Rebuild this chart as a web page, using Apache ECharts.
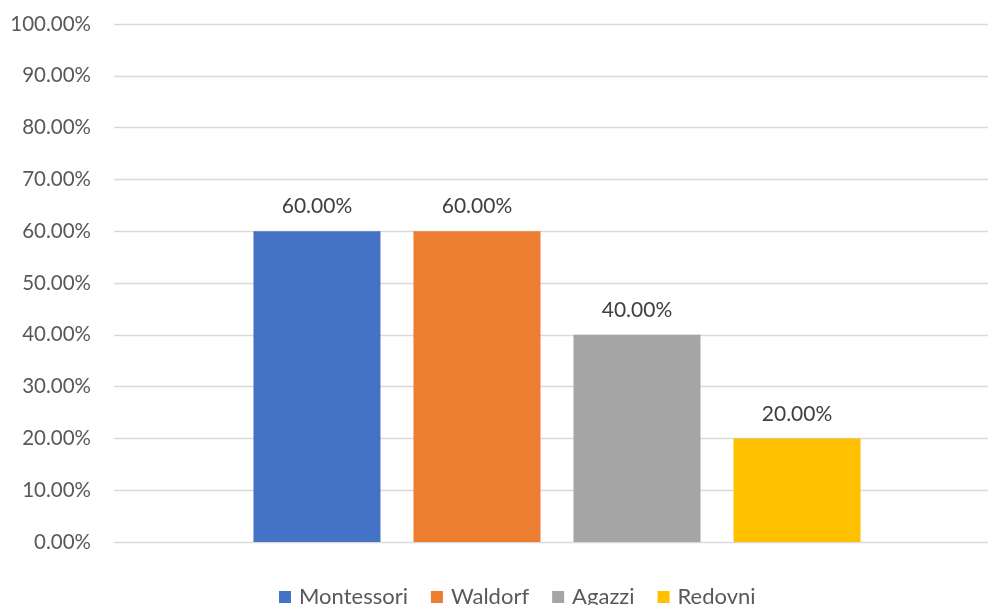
<!DOCTYPE html>
<html>
<head>
<meta charset="utf-8">
<script src="https://cdn.jsdelivr.net/npm/echarts@6/dist/echarts.min.js"></script>
<style>
  html, body { margin: 0; padding: 0; background: #fff; }
  #chart { width: 988px; height: 605px; }
</style>
</head>
<body>
<div id="chart"></div>
<script>
const categories = [""];
const seriesNames = ["Montessori", "Waldorf", "Agazzi", "Redovni"];
const seriesValues = [[0.6], [0.6], [0.4], [0.2]];
const colors = ["#4472c4", "#ed7d31", "#a5a5a5", "#ffc000"];

const chart = echarts.init(document.getElementById("chart"));

const pct = (v) => (v * 100).toFixed(2) + "%";

const option = {
  animation: false,
  color: colors,
  textStyle: { fontFamily: "Lato, 'Open Sans', sans-serif" },
  grid: {
    left: 114,
    right: -12,
    top: 24,
    bottom: 63,
    outerBoundsMode: "none",
  },
  legend: {
    bottom: -8,
    left: 274,
    icon: "rect",
    itemWidth: 12,
    itemHeight: 12,
    itemGap: 23,
    textStyle: { color: "#595959", fontSize: 22, padding: [0, 0, 0, 3] },
    data: seriesNames,
  },
  xAxis: {
    type: "category",
    data: categories,
    axisLine: { show: false },
    axisTick: { show: false },
    axisLabel: { show: false },
  },
  yAxis: {
    type: "value",
    min: 0,
    max: 1,
    interval: 0.1,
    axisLine: { show: false },
    axisTick: { show: false },
    axisLabel: {
      color: "#595959",
      fontSize: 20.5,
      margin: 23,
      formatter: pct,
    },
    splitLine: { lineStyle: { color: "#d9d9d9", width: 1.3 } },
  },
  series: seriesNames.map((name, i) => ({
    name: name,
    type: "bar",
    data: seriesValues[i],
    barWidth: 127,
    barGap: "26%",
    label: {
      show: true,
      position: "top",
      distance: 14,
      color: "#404040",
      fontSize: 21,
      formatter: (p) => pct(p.value),
    },
  })),
};

chart.setOption(option);
</script>
</body>
</html>
